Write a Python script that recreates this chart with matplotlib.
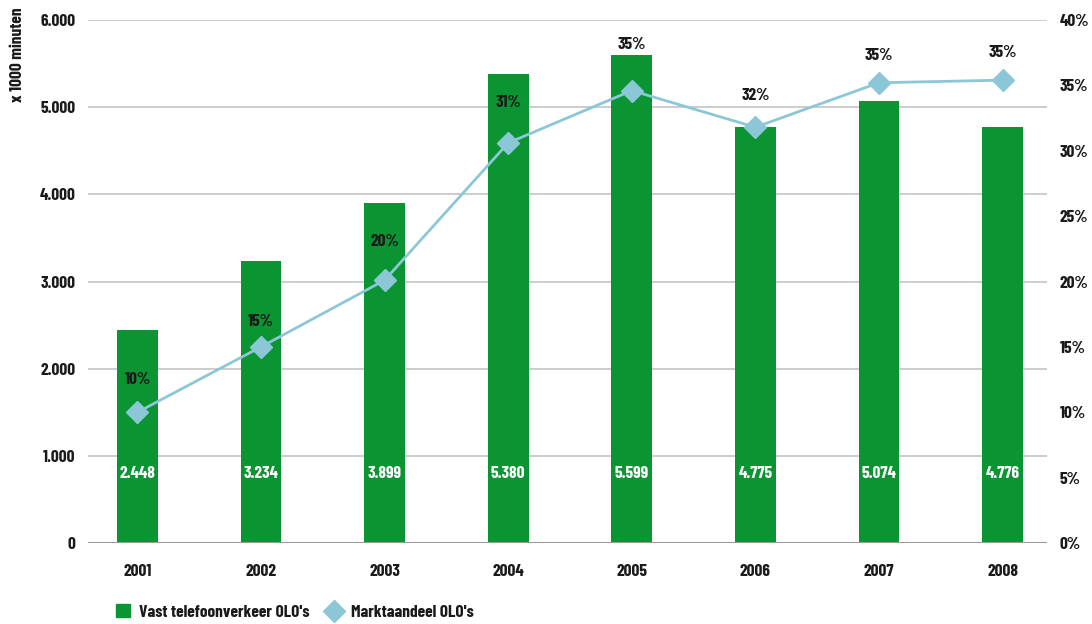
import matplotlib
matplotlib.use("Agg")
import matplotlib.pyplot as plt
from matplotlib import font_manager
from matplotlib.patches import Patch
from matplotlib.lines import Line2D

years = ["2001", "2002", "2003", "2004", "2005", "2006", "2007", "2008"]
verkeer = [2448, 3234, 3899, 5380, 5599, 4775, 5074, 4776]
verkeer_labels = ["2.448", "3.234", "3.899", "5.380", "5.599", "4.775", "5.074", "4.776"]
marktaandeel = [10.0, 15.0, 20.1, 30.6, 34.6, 31.8, 35.2, 35.4]
marktaandeel_labels = ["10%", "15%", "20%", "31%", "35%", "32%", "35%", "35%"]
left_ticks = [0, 1000, 2000, 3000, 4000, 5000, 6000]
left_ticklabels = ["0", "1.000", "2.000", "3.000", "4.000", "5.000", "6.000"]
right_ticks = [0, 5, 10, 15, 20, 25, 30, 35, 40]
right_ticklabels = ["0%", "5%", "10%", "15%", "20%", "25%", "30%", "35%", "40%"]
legend_labels = ["Vast telefoonverkeer OLO's", "Marktaandeel OLO's"]

# style: vertical offsets (px) of the percentage labels above their points
label_offsets_px = [33, 25, 39, 40, 46, 32, 27, 28]

names = {f.name for f in font_manager.fontManager.ttflist}
prefs = ["Barlow Condensed", "Roboto Condensed", "Liberation Sans Narrow"]
fam = [f for f in prefs if f in names] + ["DejaVu Sans"]
plt.rcParams["font.family"] = fam
plt.rcParams["font.weight"] = "bold"

GREEN = "#0A9432"
BLUE = "#8CC7D7"
TXT = "#1a1a1a"
FS = 12.5

fig = plt.figure(figsize=(10.92, 6.24), dpi=100)
ax = fig.add_axes([88/1092, 1-543/624, (1047-88)/1092, (543-20)/624])
x = list(range(len(years)))

for t in left_ticks[1:]:
    ax.axhline(t, color="#c4c4c4", lw=1.2, zorder=0)
ax.axhline(0, color="#9a9a9a", lw=1.5, zorder=3)

ax.bar(x, verkeer, width=0.33, color=GREEN, zorder=2)
for xi, lab in zip(x, verkeer_labels):
    ax.text(xi, 800, lab, ha="center", va="center", color="white", fontsize=FS, fontweight="bold", zorder=5)

ax.set_xlim(-0.4, 7.36)
ax.set_ylim(0, 6000)
ax.set_yticks(left_ticks)
ax.set_yticklabels(left_ticklabels)
ax.set_xticks(x)
ax.set_xticklabels(years)
for s in ax.spines.values():
    s.set_visible(False)
ax.tick_params(axis="both", length=0, labelsize=FS, colors=TXT)
ax.tick_params(axis="y", pad=9)
ax.tick_params(axis="x", pad=15)

ax2 = ax.twinx()
ax2.set_ylim(0, 40)
ax2.plot(x, marktaandeel, color=BLUE, lw=2.0, marker="D", markersize=11.5, markeredgecolor=BLUE, zorder=4)
for xi, v, lab, off in zip(x, marktaandeel, marktaandeel_labels, label_offsets_px):
    ax2.annotate(lab, (xi, v), xytext=(0, off * 0.72), textcoords="offset points", ha="center", va="center",
                 fontsize=FS, fontweight="bold", color=TXT)
ax2.set_yticks(right_ticks)
ax2.set_yticklabels(right_ticklabels)
for s in ax2.spines.values():
    s.set_visible(False)
ax2.tick_params(axis="y", length=0, labelsize=FS, colors=TXT, pad=9)

fig.text(18/1092, 1-55/624, "x 1000 minuten", rotation=90, ha="center", va="center", fontsize=FS, fontweight="bold", color=TXT)

handles = [Patch(facecolor=GREEN, edgecolor=GREEN),
           Line2D([], [], color="none", marker="D", markersize=11.5, markerfacecolor=BLUE, markeredgecolor=BLUE)]
leg = fig.legend(handles, legend_labels, loc="center left",
                 bbox_to_anchor=(116/1092, 1-612/624), ncol=2, frameon=False, fontsize=FS,
                 columnspacing=1.0, handlelength=0.8, handleheight=0.8, handletextpad=0.55, borderaxespad=0,
                 borderpad=0)
for t in leg.get_texts():
    t.set_color(TXT)
    t.set_fontweight("bold")

fig.savefig("out.png", dpi=100)
